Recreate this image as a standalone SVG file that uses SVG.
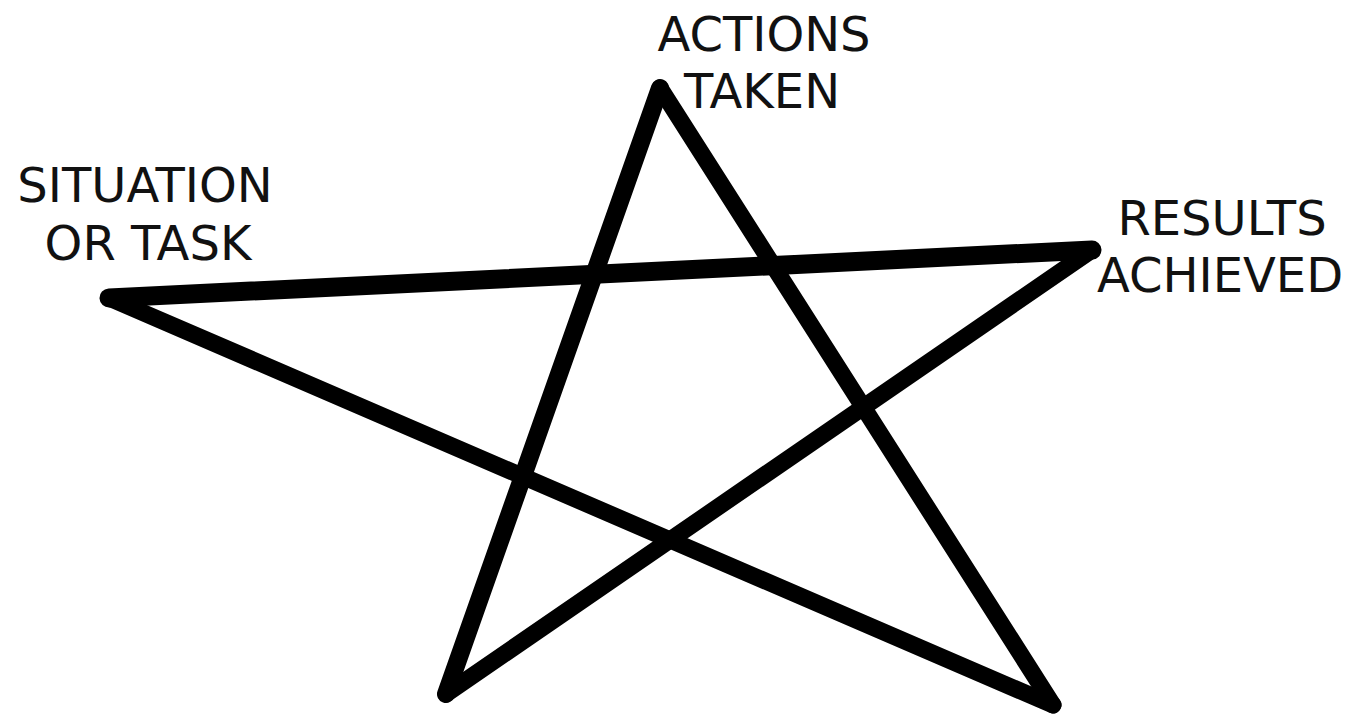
<svg xmlns="http://www.w3.org/2000/svg" width="1350" height="717" viewBox="0 0 1350 717">
<style>
.lbl{font-family:"DejaVu Sans",sans-serif;font-size:48px;fill:#111;text-anchor:middle}
.edge{fill:none;stroke:#000;stroke-linecap:round;stroke-linejoin:round}
</style>
<rect width="1350" height="717" fill="#fff"/>
<g id="connectors">
<path class="edge" d="M109 298 L1092 250" stroke-width="19"/>
<line class="edge" x1="1092" y1="250" x2="446" y2="694" stroke-width="17"/>
<line class="edge" x1="446" y1="694" x2="660" y2="88" stroke-width="18"/>
<line class="edge" x1="660" y1="88" x2="1053" y2="705" stroke-width="17"/>
<line class="edge" x1="1053" y1="705" x2="109" y2="298" stroke-width="17"/>
</g>
<g id="actions"><text class="lbl" x="764" y="51">ACTIONS</text><text class="lbl" x="762" y="108">TAKEN</text></g>
<g id="situation"><text class="lbl" x="145" y="202">SITUATION</text><text class="lbl" x="148" y="260">OR TASK</text></g>
<g id="results"><text class="lbl" x="1222" y="235">RESULTS</text><text class="lbl" x="1220" y="292">ACHIEVED</text></g>
</svg>
